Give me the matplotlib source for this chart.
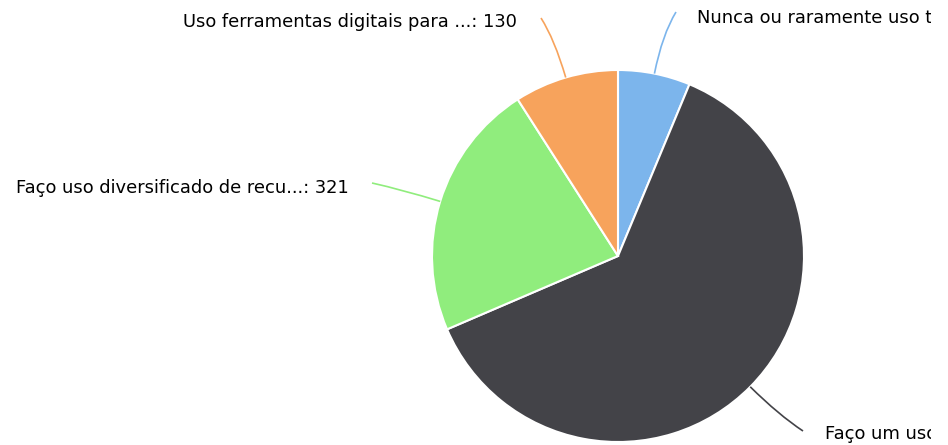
import numpy as np
import matplotlib
matplotlib.use("Agg")
import matplotlib.pyplot as plt
from matplotlib.path import Path
from matplotlib.patches import PathPatch
from matplotlib.transforms import Bbox, TransformedBbox

# slice data (clockwise from 12 o'clock)
labels = ["Nunca ou raramente uso t...", "Faço um uso ...",
          "Faço uso diversificado de recu...", "Uso ferramentas digitais para ..."]
values = [90, 893, 321, 130]
colors = ["#7cb5ec", "#434348", "#90ed7d", "#f7a35c"]

W, H = 948, 445
cx, cy, r = 618, H - 256, 186

fig = plt.figure(figsize=(W / 100, H / 100), dpi=100)
ax = fig.add_axes([0, 0, 1, 1])

wedges, _ = ax.pie(values, colors=colors, startangle=90, counterclock=False,
                   center=(cx, cy), radius=r, frame=True,
                   wedgeprops=dict(edgecolor="white", linewidth=1.5))
ax.set_xlim(0, W)
ax.set_ylim(0, H)
ax.set_aspect("equal")
ax.axis("off")

# the chart container cuts labels off on the right
clip_box = TransformedBbox(Bbox([[0, 0], [931, H]]), ax.transData)

# label placement: connector end (screen px), text anchor, alignment
label_pos = [
    ((676, 12), (697, 18), "left"),
    ((803, 431), (825, 434), "left"),
    ((372, 183), (349, 188), "right"),
    ((541, 18), (517, 22), "right"),
]

total = sum(values)
start = 0.0
for i, v in enumerate(values):
    frac = v / total
    mid = np.deg2rad((start + frac / 2) * 360)
    start += frac
    dx, dy = np.sin(mid), np.cos(mid)
    p0 = (cx + r * dx, cy + r * dy)
    p1 = (cx + (r + 40) * dx, cy + (r + 40) * dy)
    (ex, ey), (tx, ty), ha = label_pos[i]
    p2 = (ex, H - ey)
    path = Path([p0, p1, p2], [Path.MOVETO, Path.CURVE3, Path.CURVE3])
    ax.add_patch(PathPatch(path, fill=False, edgecolor=colors[i], lw=1.2))
    t = ax.text(tx, H - ty, f"{labels[i]}: {v}", ha=ha, va="center",
                fontsize=12.9, color="black", clip_on=True)
    t.set_clip_box(clip_box)

fig.savefig("out.png", dpi=100)
